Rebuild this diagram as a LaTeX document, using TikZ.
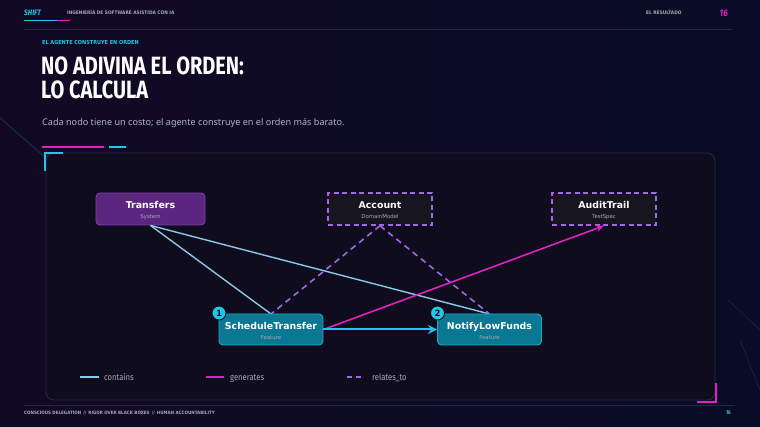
\documentclass[tikz,border=0pt]{standalone}
\usepackage{fontspec}
\setmainfont{DejaVu Sans}
\newfontfamily\titlefont{Fira Sans}[FakeStretch=0.8]
\newfontfamily\subfont{Noto Sans}
\newfontfamily\smallfont{Fira Sans}[FakeStretch=0.85]
\newfontfamily\capfont{DejaVu Sans}[FakeStretch=0.9]
\usetikzlibrary{arrows.meta}
\definecolor{bgA}{HTML}{120A24}
\definecolor{bgB}{HTML}{0A0C26}
\definecolor{panelfill}{HTML}{0F0C1D}
\definecolor{panelline}{HTML}{2A2840}
\definecolor{cyanc}{HTML}{1EC8E6}
\definecolor{magc}{HTML}{E020C0}
\definecolor{contc}{HTML}{8CC8E8}
\definecolor{violc}{HTML}{A067E6}
\definecolor{sysfill}{HTML}{5B2580}
\definecolor{sysline}{HTML}{7C40A8}
\definecolor{featfill}{HTML}{0A7892}
\definecolor{featline}{HTML}{22A8C8}
\definecolor{dashfill}{HTML}{17161F}
\definecolor{greytxt}{HTML}{A8A6BC}
\definecolor{subgrey}{HTML}{B4B2C4}
\tikzset{
  sysbox/.style={rectangle, rounded corners=4pt, fill=sysfill, draw=sysline, line width=0.9pt, minimum width=109pt, minimum height=32pt, inner sep=0pt},
  featbox/.style={rectangle, rounded corners=4pt, fill=featfill, draw=featline, line width=0.9pt, minimum width=104pt, minimum height=31pt, inner sep=0pt},
  dashbox/.style={rectangle, fill=dashfill, draw=violc, dash pattern=on 5pt off 3.5pt, line width=1.5pt, minimum width=104pt, minimum height=32pt, inner sep=0pt},
  boxtitle/.style={font=\bfseries\fontsize{9.4}{10}\selectfont, text=white, anchor=base, inner sep=0pt},
  boxsub/.style={font=\fontsize{5.4}{6}\selectfont, text=greytxt, anchor=base, inner sep=0pt},
  containsline/.style={draw=contc, line width=1.4pt},
  genline/.style={draw=magc, line width=1.6pt},
  relline/.style={draw=violc, line width=1.6pt, dash pattern=on 6pt off 4.5pt},
  badge/.style={circle, fill=cyanc, draw=bgA, line width=0.9pt, minimum size=14pt, inner sep=0pt, font=\bfseries\fontsize{8.5}{8}\selectfont, text=bgA},
  legtxt/.style={font=\smallfont\fontsize{9}{10}\selectfont, text=greytxt, anchor=base west, inner sep=0pt},
  hdr/.style={font=\capfont\bfseries\fontsize{4.8}{5}\selectfont, anchor=base west, inner sep=0pt}
}
\begin{document}
\begin{tikzpicture}[x=1pt,y=-1pt]
\useasboundingbox (0,0) rectangle (760,427);
\shade[left color=bgA, right color=bgB] (0,0) rectangle (760,427);
% decorative faint lines
\draw[cyanc!40!bgA, line width=0.7pt, opacity=0.6] (0,118) -- (46,158);
\draw[panelline, line width=0.7pt, opacity=0.7] (740,340) -- (760,390);
\draw[panelline, line width=0.7pt, opacity=0.7] (728,300) -- (760,330);
% header
\node[hdr, text=cyanc, font=\smallfont\bfseries\itshape\fontsize{7.8}{8}\selectfont] (shift) at (24,15.5) {SHIFT};
\draw[cyanc, line width=1pt] (24,20.5) -- (57,20.5);
\draw[magc, line width=1pt] (57,20.5) -- (70,20.5);
\node[hdr, text=greytxt] (hdrtxt) at (67,15) {INGENIERÍA DE SOFTWARE ASISTIDA CON IA};
\node[hdr, text=greytxt] (hdrres) at (646,15) {EL RESULTADO};
\node[hdr, anchor=base east, text=magc, font=\smallfont\bfseries\itshape\fontsize{9.5}{10}\selectfont] (pagenum) at (728,16.5) {16};
\draw[panelline, line width=0.8pt] (24,29.5) -- (732,29.5);
% titles
\node[hdr, text=cyanc, font=\capfont\bfseries\fontsize{5.5}{6}\selectfont] (kicker) at (42,45) {EL AGENTE CONSTRUYE EN ORDEN};
\node[anchor=base west, inner sep=0pt, text=white, font=\titlefont\bfseries\fontsize{25}{26}\selectfont] (title1) at (41,75) {NO ADIVINA EL ORDEN:};
\node[anchor=base west, inner sep=0pt, text=white, font=\titlefont\bfseries\fontsize{25}{26}\selectfont] (title2) at (41,99) {LO CALCULA};
\node[anchor=base west, inner sep=0pt, text=subgrey, font=\subfont\fontsize{9.1}{10}\selectfont] (subtitle) at (42,125.5) {Cada nodo tiene un costo; el agente construye en el orden más barato.};
\draw[magc, line width=2pt] (42,147) -- (104,147);
\draw[cyanc, line width=2pt] (109,147) -- (126,147);
% panel
\draw[fill=panelfill, draw=panelline, line width=0.9pt, rounded corners=8pt] (46,153) rectangle (715,400);
\draw[cyanc, line width=2pt] (45,171) -- (45,153) -- (63,153);
\draw[magc, line width=2pt] (715.5,383) -- (715.5,401.5) -- (697,401.5);
% nodes
\node[sysbox] (tr) at (150.5,209) {};
\node[boxtitle] (trt) at (150.5,208.8) {Transfers};
\node[boxsub] (trs) at (150.5,219) {System};
\node[dashbox] (acc) at (380,209) {};
\node[boxtitle] (acct) at (380,208.8) {Account};
\node[boxsub] (accs) at (380,219) {DomainModel};
\node[dashbox] (aud) at (604,209) {};
\node[boxtitle] (audt) at (604,208.8) {AuditTrail};
\node[boxsub] (auds) at (604,219) {TestSpec};
% edges (behind lower nodes)
\draw[containsline] (tr.south) -- (271,314) coordinate (stn);
\draw[containsline] (tr.south) -- (489.5,314) coordinate (nln);
\draw[relline] (acc.south) -- (stn);
\draw[relline] (acc.south) -- (nln);
\node[featbox] (st) at (271,329.5) {};
\node[boxtitle] (stt) at (271,329.3) {ScheduleTransfer};
\node[boxsub] (sts) at (271,339.5) {Feature};
\node[featbox] (nl) at (489.5,329.5) {};
\node[boxtitle] (nlt) at (489.5,329.3) {NotifyLowFunds};
\node[boxsub] (nls) at (489.5,339.5) {Feature};
\draw[genline, -{Stealth[length=8pt,width=7pt]}] (st.east) -- (aud.south);
\draw[draw=cyanc, line width=2pt, -{Stealth[length=9pt,width=9pt]}] (st.east) -- (nl.west);
\node[badge] (b1) at (219,313) {1};
\node[badge] (b2) at (437.5,313) {2};
% legend
\coordinate (lc1) at (80,377); \coordinate (lc2) at (99,377);
\draw[containsline, line width=2.2pt] (lc1) -- (lc2);
\node[legtxt] (lt1) at (104,380.5) {contains};
\coordinate (lg1) at (206,377); \coordinate (lg2) at (224,377);
\draw[genline, line width=2.2pt] (lg1) -- (lg2);
\node[legtxt] (lt2) at (230,380.5) {generates};
\coordinate (lr1) at (347,377); \coordinate (lr2) at (362,377);
\draw[violc, line width=2.2pt, dash pattern=on 5pt off 4pt] (lr1) -- (lr2);
\node[legtxt] (lt3) at (372,380.5) {relates\_to};
% footer
\draw[panelline, line width=0.8pt] (24,405) -- (735,405);
\node[hdr, text=greytxt, font=\capfont\bfseries\fontsize{4.5}{5}\selectfont] (foot) at (24,414.5) {CONSCIOUS DELEGATION \,//\, RIGOR OVER BLACK BOXES \,//\, HUMAN ACCOUNTABILITY};
\node[hdr, anchor=base east, text=cyanc, font=\smallfont\bfseries\fontsize{5.5}{5}\selectfont] (foot16) at (731,414.5) {16};
\end{tikzpicture}
\end{document}
